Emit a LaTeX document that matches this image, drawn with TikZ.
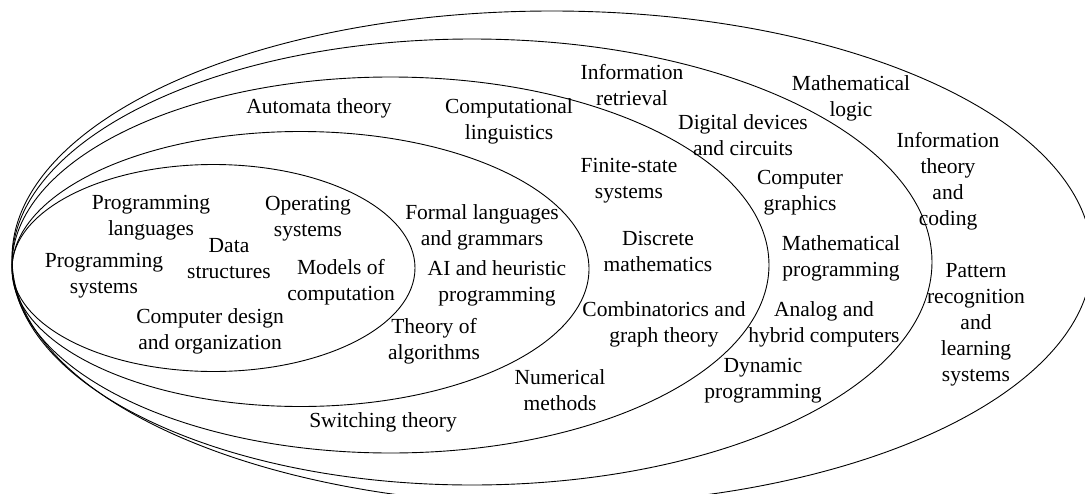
\documentclass[tikz,border=0pt]{standalone}
\usepackage{fontspec}
\setmainfont{Liberation Serif}
\begin{document}
\begin{tikzpicture}[x=1pt,y=-1pt,
  ring/.style={draw=black,line width=0.9pt},
  lbl/.style={align=center,inner sep=0pt,font=\fontsize{21.5}{26}\selectfont}]
\useasboundingbox (0,0) rectangle (1085,493);
\clip (0,0) rectangle (1085,493);
\fill[white] (0,0) rectangle (1085,493);
% nested ellipses
\draw[ring] (213.5,268) ellipse [x radius=201.5pt, y radius=103.5pt];
\draw[ring] (300.5,269) ellipse [x radius=288.5pt, y radius=137.5pt];
\draw[ring] (390.5,265) ellipse [x radius=378.5pt, y radius=188pt];
\draw[ring] (472,262) ellipse [x radius=460pt, y radius=223pt];
\draw[ring] (552,258) ellipse [x radius=540pt, y radius=247pt];
% innermost
\node[lbl] (pl) at (151,218) {Programming\\languages};
\node[lbl] (ds) at (229,259) {Data\\structures};
\node[lbl] (ps) at (104,276) {Programming\\systems};
\node[lbl] (cd) at (210,331) {Computer design\\and organization};
\node[lbl] (os) at (308,219) {Operating\\systems};
\node[lbl] (mc) at (341,282) {Models of\\computation};
% ring 2
\node[lbl] (fl) at (482,227) {Formal languages\\and grammars};
\node[lbl] (ai) at (497,283) {AI and heuristic\\programming};
\node[lbl] (ta) at (434,341) {Theory of\\algorithms};
% ring 3
\node[lbl] (at) at (319,108) {Automata theory};
\node[lbl] (cl) at (509,121) {Computational\\linguistics};
\node[lbl] (fs) at (629,181) {Finite-state\\systems};
\node[lbl] (dm) at (658,251) {Discrete\\mathematics};
\node[lbl] (cg) at (664,324) {Combinatorics and\\graph theory};
\node[lbl] (nm) at (560,390) {Numerical\\methods};
\node[lbl] (st) at (383,422) {Switching theory};
% ring 4
\node[lbl] (ir) at (632,85.5) {Information\\retrieval};
\node[lbl] (dd) at (743,135.5) {Digital devices\\and circuits};
\node[lbl] (cgr) at (800,192.5) {Computer\\graphics};
\node[lbl] (mp) at (841,258) {Mathematical\\programming};
\node[lbl] (ah) at (824,324) {Analog and\\hybrid computers};
\node[lbl] (dp) at (763,380.5) {Dynamic\\programming};
% ring 5
\node[lbl] (ml) at (851,98) {Mathematical\\logic};
\node[lbl] (it) at (948,181) {Information\\theory\\and\\coding};
\node[lbl] (pr) at (976,325) {Pattern\\recognition\\and\\learning\\systems};
\end{tikzpicture}
\end{document}
